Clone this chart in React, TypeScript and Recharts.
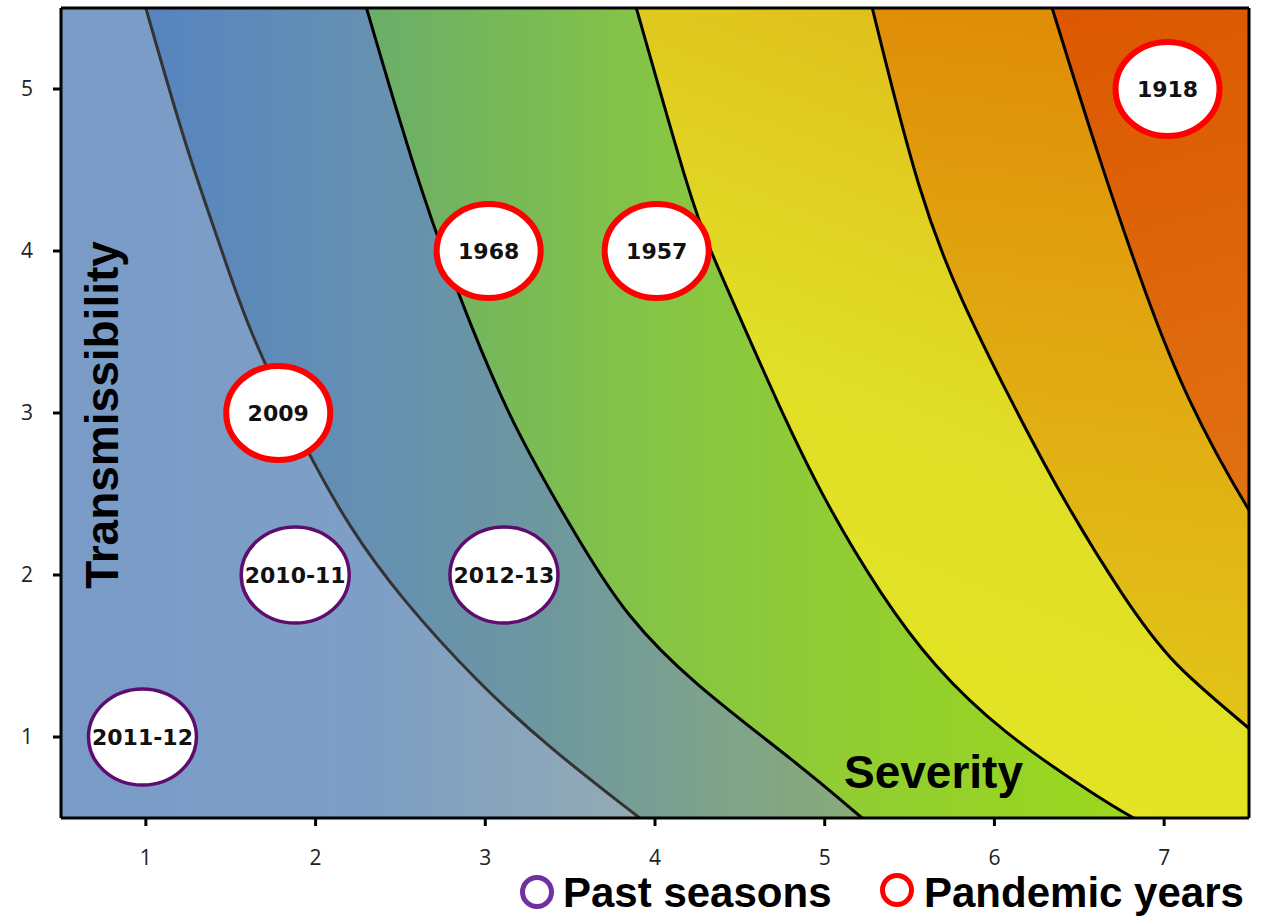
import React from 'react';
import {
  ComposedChart,
  Area,
  Line,
  Scatter,
  XAxis,
  YAxis,
  CartesianGrid,
  ReferenceLine,
} from 'recharts';

// ---- axis ticks ----
const xTicks = [1, 2, 3, 4, 5, 6, 7];
const yTicks = [1, 2, 3, 4, 5];

// ---- contour lines (severity / transmissibility), ordered top -> bottom ----
const contour1 = [
  { x: 1.0, y: 5.5 },
  { x: 1.24, y: 4.62 },
  { x: 1.45, y: 4.0 },
  { x: 1.6, y: 3.52 },
  { x: 1.94, y: 2.78 },
  { x: 2.2, y: 2.29 },
  { x: 2.5, y: 1.86 },
  { x: 2.95, y: 1.34 },
  { x: 3.38, y: 0.93 },
  { x: 3.91, y: 0.5 },
];
const contour2 = [
  { x: 2.3, y: 5.5 },
  { x: 2.63, y: 4.32 },
  { x: 2.92, y: 3.52 },
  { x: 3.17, y: 2.9 },
  { x: 3.58, y: 2.16 },
  { x: 3.83, y: 1.75 },
  { x: 4.21, y: 1.34 },
  { x: 4.85, y: 0.83 },
  { x: 5.22, y: 0.5 },
];
const contour3 = [
  { x: 3.89, y: 5.5 },
  { x: 4.21, y: 4.32 },
  { x: 4.31, y: 4.04 },
  { x: 4.53, y: 3.52 },
  { x: 4.71, y: 3.09 },
  { x: 4.99, y: 2.47 },
  { x: 5.34, y: 1.86 },
  { x: 5.64, y: 1.44 },
  { x: 6.03, y: 1.04 },
  { x: 6.62, y: 0.62 },
  { x: 6.82, y: 0.5 },
];
const contour4 = [
  { x: 5.28, y: 5.5 },
  { x: 5.56, y: 4.32 },
  { x: 5.8, y: 3.7 },
  { x: 6.09, y: 3.09 },
  { x: 6.4, y: 2.47 },
  { x: 6.76, y: 1.86 },
  { x: 7.05, y: 1.44 },
  { x: 7.49, y: 1.07 },
  { x: 8.1, y: 0.5 },
];
const contour5 = [
  { x: 6.34, y: 5.5 },
  { x: 6.6, y: 4.62 },
  { x: 6.9, y: 3.7 },
  { x: 7.13, y: 3.09 },
  { x: 7.49, y: 2.39 },
  { x: 8.0, y: 1.6 },
  { x: 8.8, y: 0.5 },
];

// ---- influenza seasons ----
const pandemicYears = [
  { x: 7.02, y: 5.0, label: '1918' },
  { x: 3.02, y: 4.0, label: '1968' },
  { x: 4.01, y: 4.0, label: '1957' },
  { x: 1.78, y: 3.0, label: '2009' },
];
const pastSeasons = [
  { x: 1.88, y: 2.0, label: '2010-11' },
  { x: 3.11, y: 2.0, label: '2012-13' },
  { x: 0.98, y: 1.0, label: '2011-12' },
];

const xDomain = [0.5, 7.5];
const yDomain = [0.5, 5.5];

const BOLD = '"Liberation Sans", Arial, sans-serif';

function makeBubble(ring: string, ringWidth: number, rx: number, ry: number) {
  return (props: any) => {
    const { cx, cy, payload } = props;
    if (cx == null || cy == null) return null;
    return (
      <g>
        <ellipse cx={cx} cy={cy} rx={rx} ry={ry} fill="#fff" stroke={ring} strokeWidth={ringWidth} />
        <text
          x={cx}
          y={cy}
          dy="0.36em"
          textAnchor="middle"
          fontFamily='"DejaVu Sans", sans-serif'
          fontWeight="bold"
          fontSize={22}
          fill="#111"
        >
          {payload.label}
        </text>
      </g>
    );
  };
}

const PandemicBubble = makeBubble('#ff0000', 6, 52, 47);
const PastBubble = makeBubble('#5e0d6e', 3.5, 54, 48);

const CURVE = 'basis';

export default function App() {
  const tickStyle = { fill: '#222', fontSize: 21, fontFamily: '"Open Sans", sans-serif' };
  const areaProps = {
    dataKey: 'x',
    type: CURVE as any,
    baseValue: 'dataMin' as any,
    fillOpacity: 1,
    stroke: 'none',
    dot: false,
    activeDot: false,
    isAnimationActive: false,
  };
  const lineProps = {
    dataKey: 'x',
    type: CURVE as any,
    strokeWidth: 3,
    dot: false,
    activeDot: false,
    isAnimationActive: false,
  };
  return (
    <div style={{ position: 'absolute', left: 0, top: 0, width: 1263, height: 916, background: '#fff' }}>
      <ComposedChart
        width={1263}
        height={916}
        layout="vertical"
        margin={{ top: 8, right: 14, bottom: 68, left: 11 }}
      >
        <defs>
          <linearGradient id="g1" gradientUnits="userSpaceOnUse" x1="61" y1="0" x2="645" y2="0">
            <stop offset="0" stopColor="#7a9bc7" />
            <stop offset="0.55" stopColor="#7e9fc5" />
            <stop offset="1" stopColor="#94abb3" />
          </linearGradient>
          <linearGradient id="g2" gradientUnits="userSpaceOnUse" x1="150" y1="0" x2="860" y2="0">
            <stop offset="0" stopColor="#5784c0" />
            <stop offset="0.3" stopColor="#6590b2" />
            <stop offset="0.55" stopColor="#6d97a0" />
            <stop offset="0.8" stopColor="#7ea38a" />
            <stop offset="1" stopColor="#8aaa78" />
          </linearGradient>
          <linearGradient id="g3" gradientUnits="userSpaceOnUse" x1="365" y1="0" x2="1130" y2="0">
            <stop offset="0" stopColor="#6aad6a" />
            <stop offset="0.35" stopColor="#84c348" />
            <stop offset="0.6" stopColor="#90cc34" />
            <stop offset="1" stopColor="#9cd81c" />
          </linearGradient>
          <linearGradient id="g4" gradientUnits="userSpaceOnUse" x1="700" y1="750" x2="1000" y2="0">
            <stop offset="0" stopColor="#e4e624" />
            <stop offset="0.5" stopColor="#e0de26" />
            <stop offset="1" stopColor="#e0bc1a" />
          </linearGradient>
          <linearGradient id="g5" gradientUnits="userSpaceOnUse" x1="1050" y1="750" x2="1150" y2="0">
            <stop offset="0" stopColor="#e2c81a" />
            <stop offset="0.5" stopColor="#e1aa12" />
            <stop offset="1" stopColor="#df8a06" />
          </linearGradient>
          <linearGradient id="g6" gradientUnits="userSpaceOnUse" x1="1100" y1="0" x2="1250" y2="520">
            <stop offset="0" stopColor="#dc5800" />
            <stop offset="1" stopColor="#e07212" />
          </linearGradient>
        </defs>

        <CartesianGrid horizontal={false} vertical={false} fill="url(#g6)" />

        <XAxis
          type="number"
          dataKey="x"
          domain={xDomain}
          ticks={xTicks}
          allowDataOverflow
          height={30}
          tickSize={8}
          tickMargin={24}
          axisLine={{ stroke: '#000', strokeWidth: 3 }}
          tickLine={{ stroke: '#000', strokeWidth: 3 }}
          tick={tickStyle}
        />
        <YAxis
          type="number"
          dataKey="y"
          domain={yDomain}
          ticks={yTicks}
          reversed
          allowDataOverflow
          width={50}
          tickSize={8}
          tickMargin={20}
          axisLine={{ stroke: '#000', strokeWidth: 3 }}
          tickLine={{ stroke: '#000', strokeWidth: 3 }}
          tick={tickStyle}
        />

        <Area data={contour5} fill="url(#g5)" {...areaProps} />
        <Area data={contour4} fill="url(#g4)" {...areaProps} />
        <Area data={contour3} fill="url(#g3)" {...areaProps} />
        <Area data={contour2} fill="url(#g2)" {...areaProps} />
        <Area data={contour1} fill="url(#g1)" {...areaProps} />

        <Line data={contour1} stroke="#333" {...lineProps} />
        <Line data={contour2} stroke="#000" {...lineProps} />
        <Line data={contour3} stroke="#000" {...lineProps} />
        <Line data={contour4} stroke="#000" {...lineProps} />
        <Line data={contour5} stroke="#000" {...lineProps} />

        <ReferenceLine y={yDomain[1]} stroke="#000" strokeWidth={3} />
        <ReferenceLine x={xDomain[1]} stroke="#000" strokeWidth={3} />

        <Scatter data={pastSeasons} shape={PastBubble} isAnimationActive={false} />
        <Scatter data={pandemicYears} shape={PandemicBubble} isAnimationActive={false} />
      </ComposedChart>

      {/* Axis titles */}
      <div
        style={{
          position: 'absolute',
          left: 102,
          top: 415,
          transform: 'translate(-50%, -50%) rotate(-90deg)',
          whiteSpace: 'nowrap',
          fontFamily: BOLD,
          fontWeight: 'bold',
          fontSize: 46,
          color: '#000',
        }}
      >
        Transmissibility
      </div>
      <div
        style={{
          position: 'absolute',
          left: 844,
          top: 749,
          lineHeight: 1,
          whiteSpace: 'nowrap',
          fontFamily: BOLD,
          fontWeight: 'bold',
          fontSize: 46,
          color: '#000',
        }}
      >
        Severity
      </div>

      {/* Legend */}
      <svg style={{ position: 'absolute', left: 518, top: 873 }} width={40} height={40}>
        <circle cx={19} cy={19} r={14.5} fill="none" stroke="#7030a0" strokeWidth={5} />
      </svg>
      <div
        style={{
          position: 'absolute',
          left: 563,
          top: 872,
          lineHeight: 1,
          whiteSpace: 'nowrap',
          fontFamily: BOLD,
          fontWeight: 'bold',
          fontSize: 42,
          color: '#000',
        }}
      >
        Past seasons
      </div>
      <svg style={{ position: 'absolute', left: 878, top: 871 }} width={40} height={40}>
        <circle cx={19} cy={19} r={14.5} fill="none" stroke="#ff0000" strokeWidth={5} />
      </svg>
      <div
        style={{
          position: 'absolute',
          left: 924,
          top: 872,
          lineHeight: 1,
          whiteSpace: 'nowrap',
          fontFamily: BOLD,
          fontWeight: 'bold',
          fontSize: 42,
          color: '#000',
        }}
      >
        Pandemic years
      </div>
    </div>
  );
}
